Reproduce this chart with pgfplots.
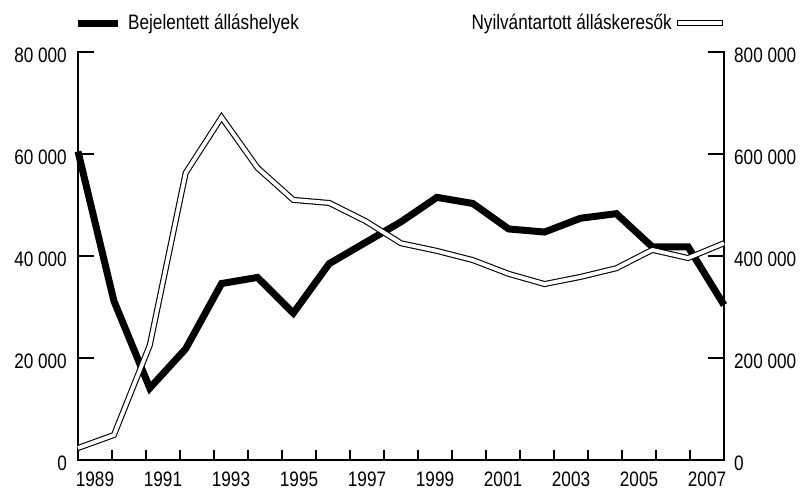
\documentclass[border=0pt]{standalone}
\usepackage{pgfplots}
\pgfplotsset{compat=1.18}
\usepackage{fontspec}
\setmainfont{Liberation Sans}[FakeStretch=0.82]
\pgfplotsset{
  base/.style={
    scale only axis, width=646bp, height=408bp,
    xmin=1988.5, xmax=2007.5,
    axis line style={line width=2.6bp, line cap=rect},
    tick style={line width=2.6bp, black},
    tick align=inside,
    /pgf/number format/assume math mode=true,
    /pgf/number format/fixed,
    /pgf/number format/precision=0,
    /pgf/number format/1000 sep={\ },
    scaled ticks=false,
    clip=false,
  }
}
\begin{document}
\fontsize{21}{25}\selectfont
\begin{tikzpicture}
\useasboundingbox (-78bp,-30bp) rectangle (724bp,460bp);
% x axis
\begin{axis}[base, ymin=0, ymax=80000, hide y axis,
  axis x line*=bottom,
  xtick={1989,1991,...,2007}, major tick length=0pt,
  minor xtick={1989.5,1990.5,...,2006.5}, minor tick length=10bp,
  xticklabel style={inner sep=0pt, yshift=-12bp},
  /pgf/number format/1000 sep={},
]
\addplot[draw=none] coordinates {(1989,0)};
\end{axis}
% left axis
\begin{axis}[base, ymin=0, ymax=80000, hide x axis,
  axis y line*=left,
  ytick={0,20000,40000,60000,80000}, major tick length=16bp,
  yticklabel style={inner sep=0pt, xshift=-11bp, yshift=-3bp},
]
\addplot[line width=7bp, black, line join=miter] coordinates {
(1988.5,60500) (1989.556,31200) (1990.611,14100) (1991.667,21800)
(1992.722,34600) (1993.778,35800) (1994.833,28800) (1995.889,38500)
(1996.944,42600) (1998.0,46700) (1999.056,51500) (2000.111,50300)
(2001.167,45300) (2002.222,44700) (2003.278,47400) (2004.333,48300)
(2005.389,41800) (2006.444,41800) (2007.5,30400)};
\end{axis}
% right axis
\begin{axis}[base, ymin=0, ymax=800000, hide x axis,
  axis y line*=right,
  ytick={0,200000,400000,600000,800000}, major tick length=16bp,
  yticklabel style={inner sep=0pt, xshift=10bp, yshift=-3bp},
]
\addplot[line width=6bp, black] coordinates {
(1988.5,23500) (1989.556,49000) (1990.611,225000) (1991.667,563000)
(1992.722,672000) (1993.778,573000) (1994.833,510000) (1995.889,504000)
(1996.944,469000) (1998.0,425000) (1999.056,410000) (2000.111,392000)
(2001.167,365000) (2002.222,345000) (2003.278,359000) (2004.333,376000)
(2005.389,412000) (2006.444,396000) (2007.5,425000)};
\addplot[line width=3.8bp, white] coordinates {
(1988.5,23500) (1989.556,49000) (1990.611,225000) (1991.667,563000)
(1992.722,672000) (1993.778,573000) (1994.833,510000) (1995.889,504000)
(1996.944,469000) (1998.0,425000) (1999.056,410000) (2000.111,392000)
(2001.167,365000) (2002.222,345000) (2003.278,359000) (2004.333,376000)
(2005.389,412000) (2006.444,396000) (2007.5,425000)};
\end{axis}
% legend
\draw[line width=7bp] (0bp,436bp) -- (40bp,436bp);
\node[anchor=west, inner sep=0pt] at (50bp,436bp) {Bejelentett álláshelyek};
\node[anchor=east, inner sep=0pt] at (594bp,436bp) {Nyilvántartott álláskeresők};
\draw[line width=6bp] (599bp,437bp) -- (645bp,437bp);
\draw[line width=3.8bp, white] (600.1bp,437bp) -- (643.9bp,437bp);
\end{tikzpicture}
\end{document}
